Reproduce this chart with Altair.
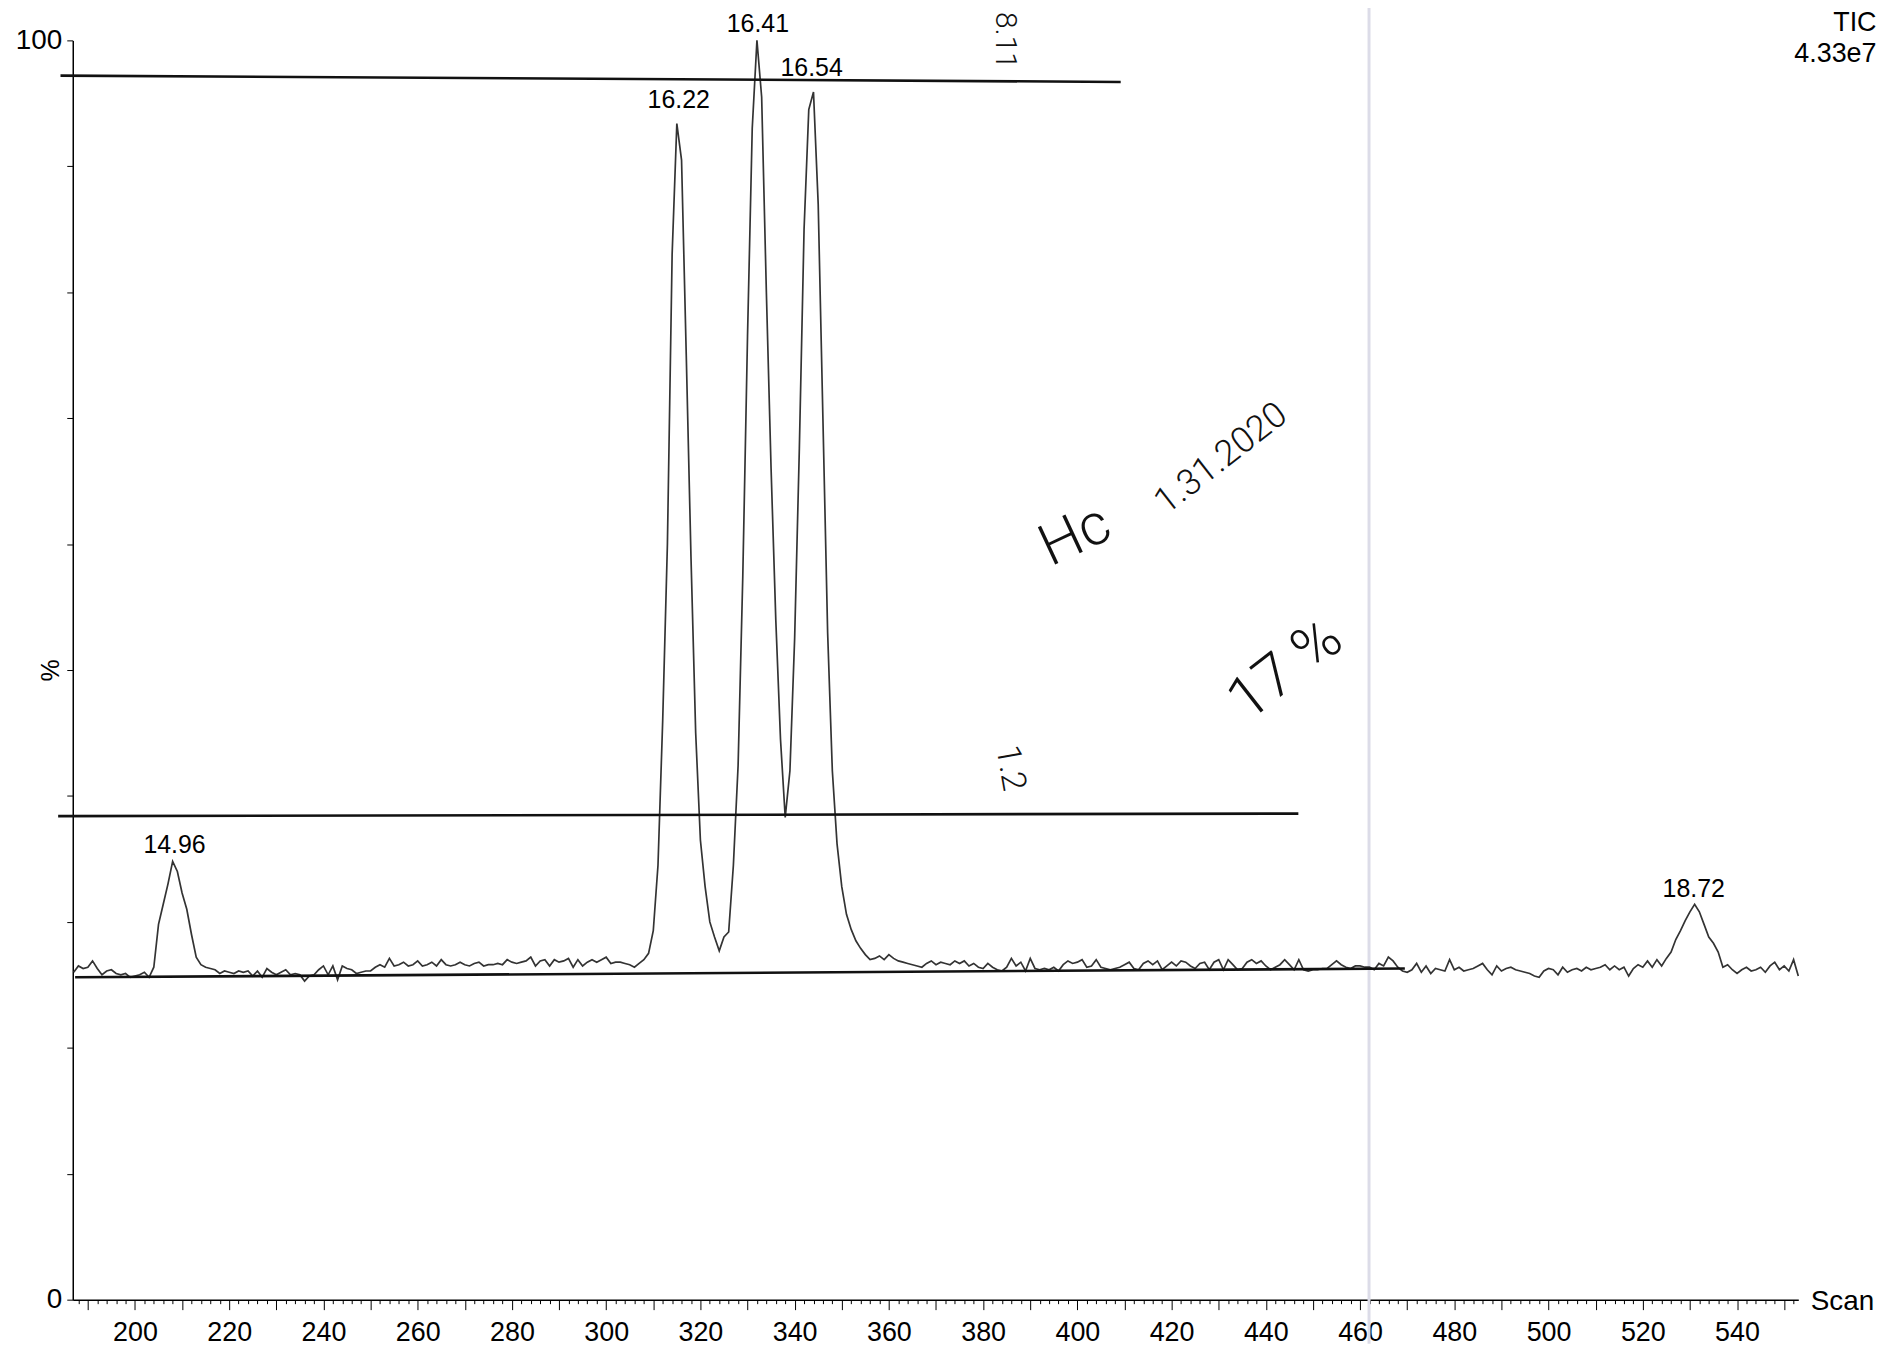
import altair as alt
import pandas as pd

# ---------------- data ----------------
scan_start = 187
tic = [
    # 187-196
    26.0, 26.5, 26.3, 26.4, 26.9, 26.3, 25.8, 26.1, 26.2, 25.9,
    # 197-206
    25.8, 25.9, 25.6, 25.7, 25.8, 26.0, 25.6, 26.4, 29.8, 31.4,
    # 207-216
    33.0, 34.8, 34.0, 32.3, 31.0, 29.0, 27.2, 26.6, 26.4, 26.3,
    # 217-226
    26.2, 25.9, 26.1, 26.0, 25.9, 26.1, 26.0, 26.1, 25.7, 26.1,
    # 227-236
    25.6, 26.3, 26.0, 25.8, 26.0, 26.2, 25.8, 25.9, 25.8, 25.3,
    # 237-246
    25.7, 25.8, 26.2, 26.5, 25.8, 26.5, 25.4, 26.5, 26.3, 26.2,
    # 247-256
    25.9, 26.0, 26.1, 26.1, 26.4, 26.6, 26.4, 27.1, 26.5, 26.6,
    # 257-266
    26.8, 26.5, 26.6, 26.9, 26.5, 26.6, 26.8, 26.5, 27.0, 26.6,
    # 267-276
    26.5, 26.6, 26.8, 26.6, 26.5, 26.7, 26.8, 26.5, 26.6, 26.6,
    # 277-286
    26.7, 26.6, 27.0, 26.8, 26.7, 26.8, 26.9, 27.2, 26.5, 26.9,
    # 287-296
    27.0, 26.5, 27.0, 26.8, 26.9, 27.1, 26.4, 27.0, 26.5, 26.8,
    # 297-306
    27.0, 26.8, 27.0, 27.2, 26.7, 26.8, 26.8, 26.7, 26.6, 26.4,
    # 307-316
    26.7, 27.0, 27.5, 29.3, 34.5, 46.0, 60.0, 83.0, 93.4, 90.5,
    # 317-326
    75.0, 59.0, 45.0, 36.5, 32.8, 30.0, 28.8, 27.7, 28.8, 29.2,
    # 327-336
    34.5, 42.4, 57.5, 76.5, 93.0, 100.0, 95.5, 80.0, 66.0, 54.0,
    # 337-346
    44.5, 38.3, 42.0, 52.5, 67.6, 85.0, 94.5, 95.9, 87.0, 70.0,
    # 347-356
    53.0, 42.0, 36.2, 32.8, 30.6, 29.4, 28.5, 27.9, 27.4, 27.0,
    # 357-366
    27.1, 27.3, 27.0, 27.4, 27.1, 26.9, 26.8, 26.7, 26.6, 26.5,
    # 367-376
    26.4, 26.7, 26.9, 26.6, 26.8, 26.7, 26.6, 26.9, 26.7, 26.9,
    # 377-386
    26.5, 26.7, 26.4, 26.3, 26.7, 26.4, 26.2, 26.1, 26.4, 27.1,
    # 387-396
    26.5, 26.8, 26.1, 27.1, 26.3, 26.2, 26.3, 26.2, 26.4, 26.1,
    # 397-406
    26.6, 26.9, 26.7, 26.8, 27.0, 26.4, 26.5, 27.0, 26.4, 26.3,
    # 407-416
    26.2, 26.3, 26.4, 26.6, 26.8, 26.3, 26.2, 26.7, 26.9, 26.6,
    # 417-426
    26.9, 26.2, 26.5, 26.8, 26.5, 26.9, 26.8, 26.5, 26.3, 26.7,
    # 427-436
    26.8, 26.2, 26.8, 27.0, 26.2, 27.0, 26.6, 26.2, 26.3, 26.8,
    # 437-446
    27.0, 26.7, 26.9, 26.5, 26.2, 26.4, 26.6, 27.0, 26.6, 26.2,
    # 447-456
    27.0, 26.2, 26.1, 26.2, 26.2, 26.3, 26.3, 26.6, 26.9, 26.6,
    # 457-466
    26.4, 26.3, 26.5, 26.5, 26.4, 26.4, 26.2, 26.7, 26.5, 27.2,
    # 467-476
    26.9, 26.4, 26.1, 26.0, 26.2, 26.7, 26.0, 26.5, 25.9, 26.3,
    # 477-486
    26.2, 26.1, 27.0, 26.2, 26.4, 26.1, 26.2, 26.3, 26.5, 26.7,
    # 487-496
    26.2, 25.8, 26.5, 26.1, 26.3, 26.4, 26.2, 26.1, 26.0, 25.9,
    # 497-506
    25.7, 25.6, 26.1, 26.3, 26.2, 25.8, 26.4, 26.0, 26.2, 26.3,
    # 507-516
    26.1, 26.4, 26.2, 26.3, 26.4, 26.6, 26.2, 26.5, 26.2, 26.4,
    # 517-526
    25.7, 26.3, 26.6, 26.4, 26.9, 26.4, 27.0, 26.5, 27.1, 27.6,
    # 527-536
    28.6, 29.3, 30.1, 30.8, 31.4, 30.8, 29.8, 28.8, 28.3, 27.6,
    # 537-546
    26.4, 26.6, 26.2, 25.9, 26.2, 26.4, 26.1, 26.2, 26.4, 26.0,
    # 547-553
    26.5, 26.8, 26.2, 26.5, 26.1, 27.0, 25.7,
]
scans = list(range(scan_start, scan_start + len(tic)))

# peak retention-time labels (position of the label text)
peak_labels = ["14.96", "16.22", "16.41", "16.54", "18.72"]
peak_label_x = [208.4, 315.4, 332.2, 343.6, 530.8]
peak_label_y = [36.1, 95.3, 101.3, 97.8, 32.6]

# hand-drawn straight lines (start / end, in scan and %)
hand_x1 = [184.2, 183.7, 187.3]
hand_y1 = [97.2, 38.4, 25.6]
hand_x2 = [409.2, 446.9, 469.5]
hand_y2 = [96.7, 38.6, 26.3]

# handwritten notes
note_text = ["8.11", "Hc", "1.31.2020", "17 %", "1.2"]
note_x = [384.6, 399.6, 430.5, 444.2, 385.7]
note_y = [100.0, 60.6, 66.8, 50.0, 42.2]
note_angle = [90, 335, 322, 322, 80]
note_size = [30, 58, 36, 60, 34]

# header texts at top right
head_text = ["TIC", "4.33e7"]
head_x = [569.6, 569.6]
head_y = [101.35, 98.95]

# faint scanner streak
streak_x = [461.9]

# ---------------- chart ----------------
X_DOM = [186.8, 553.0]
Y_DOM = [0, 100]
xs = alt.Scale(domain=X_DOM, nice=False, zero=False)
ys = alt.Scale(domain=Y_DOM, nice=False, zero=False)
FONT = "Liberation Sans"

trace_df = pd.DataFrame({"scan": scans, "pct": tic})
peaks_df = pd.DataFrame({"label": peak_labels, "x": peak_label_x, "y": peak_label_y})
hand_df = pd.DataFrame({"x": hand_x1, "y": hand_y1, "x2": hand_x2, "y2": hand_y2})
notes_df = pd.DataFrame({"t": note_text, "x": note_x, "y": note_y,
                         "a": note_angle, "s": note_size})
head_df = pd.DataFrame({"t": head_text, "x": head_x, "y": head_y})
streak_df = pd.DataFrame({"x": streak_x, "y": [-3.5], "y2": [104.0]})

x_axis = alt.Axis(
    values=list(range(188, 554, 2)),
    labelExpr="datum.value % 20 === 0 ? datum.label : ''",
    format="d",
    labelOverlap=False,
    labelFlush=False,
    tickSize={"condition": {"test": "datum.value % 10 === 0", "value": 10}, "value": 4},
    tickColor="black",
    tickWidth=1,
    domainColor="black",
    domainWidth=1.5,
    labelFont=FONT,
    labelFontSize=27,
    labelColor="black",
    labelPadding=10,
    labelBaseline="top",
    grid=False,
    title="Scan",
    titleFont=FONT,
    titleFontSize=28,
    titleFontWeight="normal",
    titleColor="black",
    titleAngle=0,
    titleAlign="left",
    titleBaseline="middle",
    titleX=1744,
    titleY=2,
)

y_axis = alt.Axis(
    values=[0, 10, 20, 30, 40, 50, 60, 70, 80, 90, 100],
    labelExpr="datum.value === 0 || datum.value === 100 ? datum.label : ''",
    labelOverlap=False,
    labelFlush=False,
    tickSize=6,
    tickColor="black",
    domainColor="black",
    domainWidth=1.5,
    labelFont=FONT,
    labelFontSize=28,
    labelColor="black",
    labelPadding=5,
    grid=False,
    title="%",
    titleFont=FONT,
    titleFontSize=25,
    titleFontWeight="normal",
    titleColor="black",
    titleAngle=270,
    titleAlign="center",
    titleBaseline="middle",
    titleX=-22,
    titleY=632,
)

streak = alt.Chart(streak_df).mark_rule(color="#dcdce8", strokeWidth=3).encode(
    x=alt.X("x:Q", scale=xs, axis=x_axis),
    y=alt.Y("y:Q", scale=ys, axis=y_axis),
    y2="y2:Q",
)

trace = alt.Chart(trace_df).mark_line(color="#333333", strokeWidth=1.7).encode(
    x=alt.X("scan:Q", scale=xs, axis=x_axis),
    y=alt.Y("pct:Q", scale=ys, axis=y_axis),
)

hand = alt.Chart(hand_df).mark_rule(color="#111111", strokeWidth=2.6).encode(
    x=alt.X("x:Q", scale=xs, axis=x_axis),
    y=alt.Y("y:Q", scale=ys, axis=y_axis),
    x2="x2:Q",
    y2="y2:Q",
)

peaks = alt.Chart(peaks_df).mark_text(
    font=FONT, fontSize=25, color="black", baseline="middle", align="center"
).encode(
    x=alt.X("x:Q", scale=xs, axis=x_axis),
    y=alt.Y("y:Q", scale=ys, axis=y_axis),
    text="label:N",
)

notes = alt.Chart(notes_df).mark_text(
    font="Roboto", fontWeight=300, color="#111111", baseline="middle", align="center"
).encode(
    x=alt.X("x:Q", scale=xs, axis=x_axis),
    y=alt.Y("y:Q", scale=ys, axis=y_axis),
    text="t:N",
    angle=alt.Angle("a:Q", scale=None),
    size=alt.Size("s:Q", scale=None),
)

head = alt.Chart(head_df).mark_text(
    font=FONT, fontSize=27, color="black", baseline="middle", align="right"
).encode(
    x=alt.X("x:Q", scale=xs, axis=x_axis),
    y=alt.Y("y:Q", scale=ys, axis=y_axis),
    text="t:N",
)

chart = alt.layer(streak, trace, hand, peaks, notes, head).properties(
    width=1732,
    height=1264,
    padding={"left": 65, "top": 30, "right": 80, "bottom": 46},
    autosize=alt.AutoSizeParams(type="none"),
    background="white",
).configure_view(stroke=None)

chart.save("out.html", embed_options={"renderer": "svg", "actions": False})
